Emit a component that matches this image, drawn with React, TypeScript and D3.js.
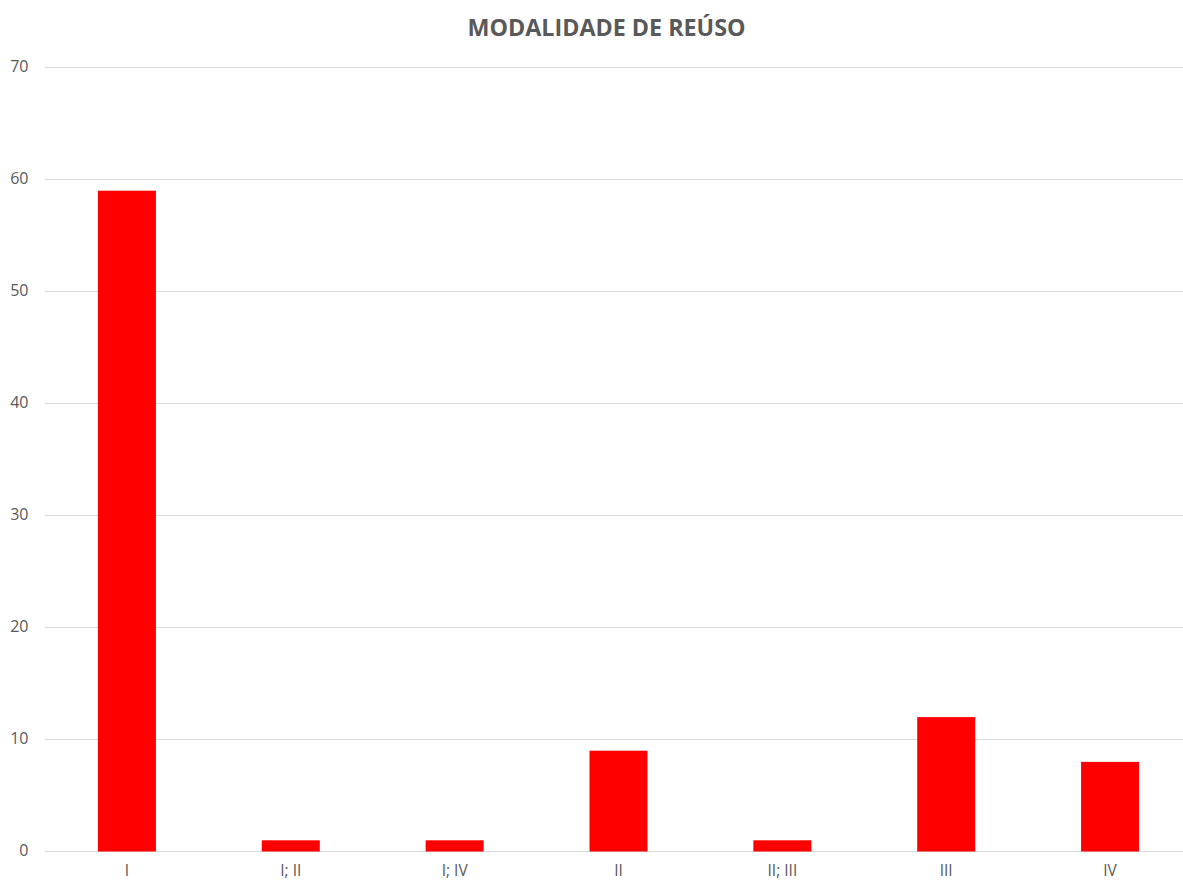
import React from "react";
import * as d3 from "d3";

const categories = ["I", "I; II", "I; IV", "II", "II; III", "III", "IV"];
const values = [59, 1, 1, 9, 1, 12, 8];
const yTicks = [0, 10, 20, 30, 40, 50, 60, 70];
const title = "MODALIDADE DE REÚSO";

const W = 1183;
const H = 881;
const plotLeft = 45;
const plotRight = 1192;
const plotTop = 67.5;
const plotBottom = 851.5;

export default function App() {
  const x = d3.scaleBand<string>().domain(categories).range([plotLeft, plotRight]).paddingInner(0.646).paddingOuter(0.323);
  const y = d3.scaleLinear().domain([0, 70]).range([plotBottom, plotTop]);
  const font = "'Open Sans', 'Liberation Sans', sans-serif";
  return (
    <svg width={W} height={H} style={{ position: "absolute", left: 0, top: 0, background: "#fff" }}>
      <text x={606.5} y={36} textAnchor="middle" fontFamily={font} fontWeight="bold" fontSize={23.3} fill="#595959">
        {title}
      </text>
      {yTicks.map((t) => (
        <g key={t}>
          <line x1={plotLeft} x2={W} y1={y(t)} y2={y(t)} stroke="#d9d9d9" strokeWidth={1} />
          <text x={28.5} y={y(t) + 4.5} textAnchor="end" fontFamily={font} fontSize={16} fill="#595959">
            {t}
          </text>
        </g>
      ))}
      {categories.map((c, i) => (
        <rect key={c} x={x(c)} y={y(values[i])} width={x.bandwidth()} height={y(0) - y(values[i])} fill="#ff0000" />
      ))}
      {categories.map((c) => (
        <text key={c} x={(x(c) as number) + x.bandwidth() / 2} y={876} textAnchor="middle" fontFamily={font} fontSize={15.5} fill="#595959">
          {c}
        </text>
      ))}
    </svg>
  );
}
